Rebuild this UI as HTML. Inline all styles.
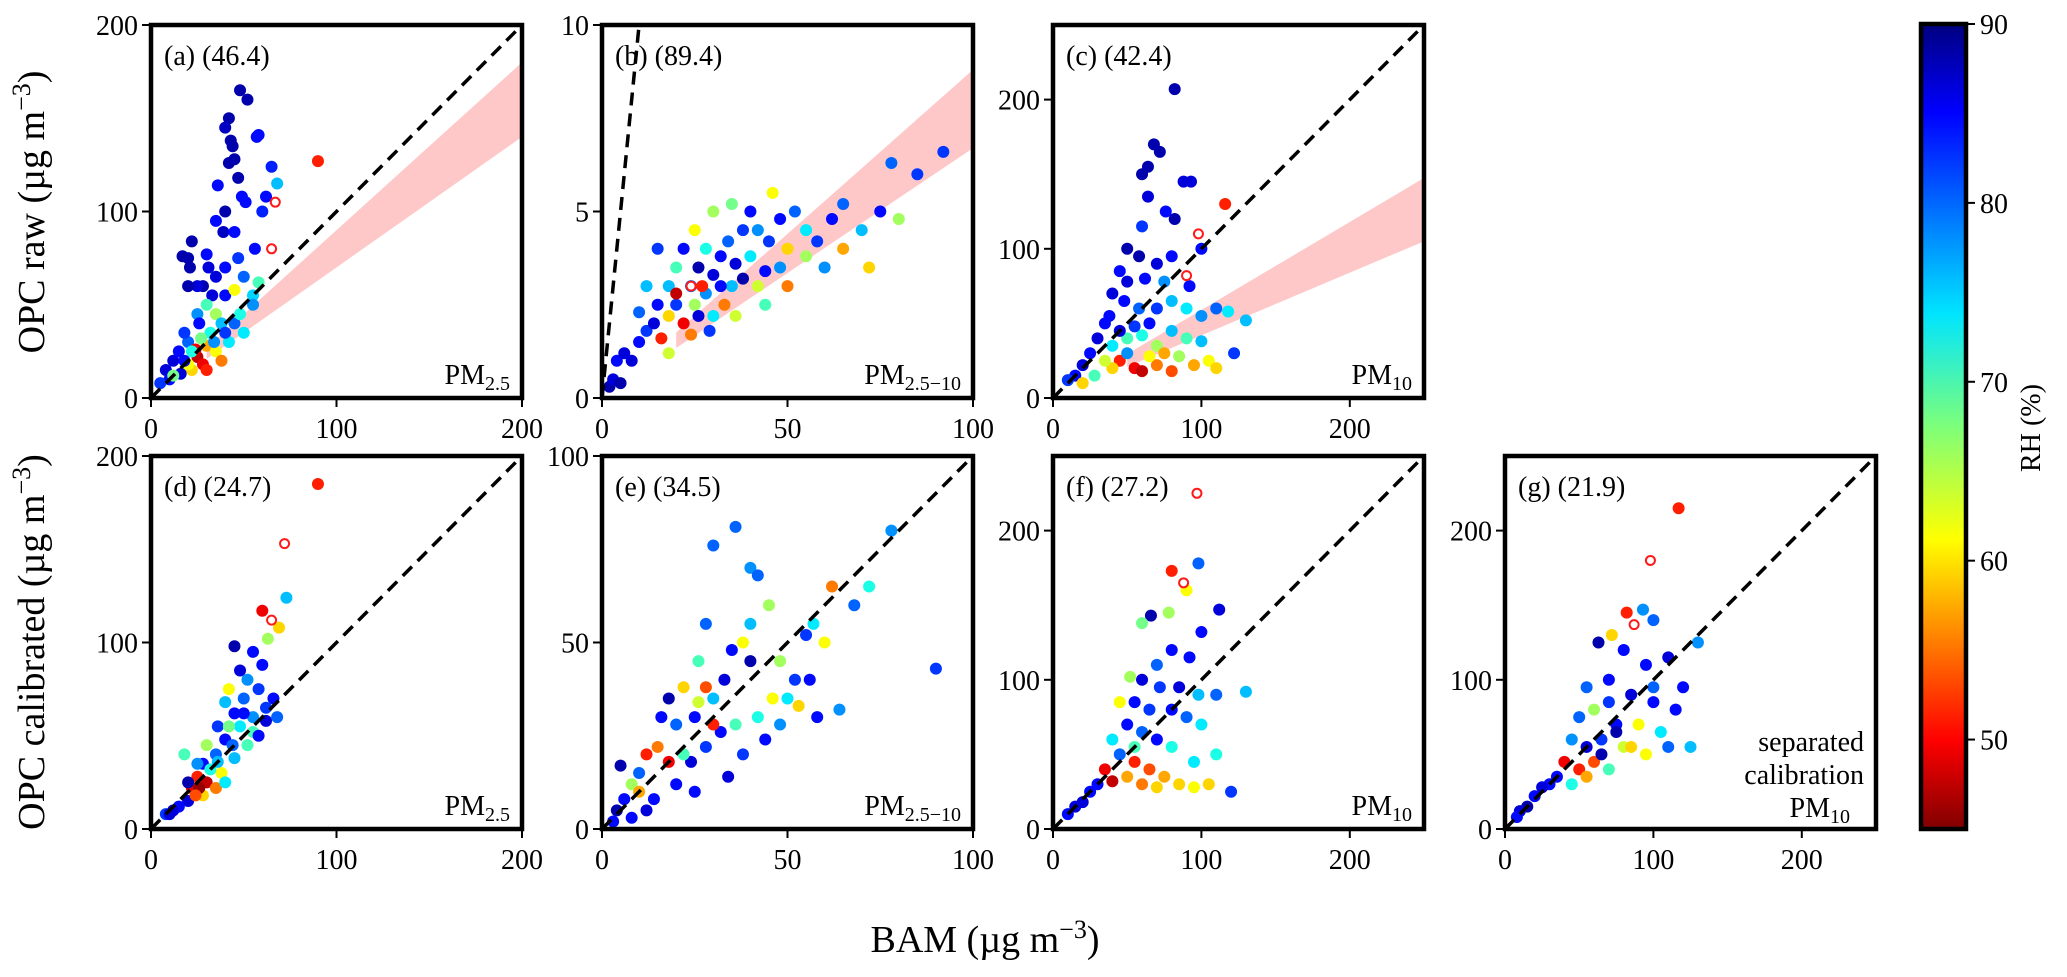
<!DOCTYPE html>
<html><head><meta charset="utf-8"><style>
html,body{margin:0;padding:0;background:#fff;}
svg{display:block;font-family:"Liberation Serif",serif;}
</style></head><body>
<svg id="chart" width="2067" height="977" xmlns="http://www.w3.org/2000/svg">
<defs><linearGradient id="jet" x1="0" y1="1" x2="0" y2="0">
<stop offset="0" stop-color="#800000"/><stop offset="0.11" stop-color="#ff0000"/><stop offset="0.36" stop-color="#ffff00"/><stop offset="0.5" stop-color="#7dff7a"/><stop offset="0.64" stop-color="#00e5ff"/><stop offset="0.89" stop-color="#0000ff"/><stop offset="1" stop-color="#000080"/>
</linearGradient></defs>
</svg>
<script>
const rhMin=45, rhMax=90;
const cbTicks=[50,60,70,80,90];
const pointsA=[[48,165,88],[52,160,88],[42,150,88],[40,145,87],[43,138,88],[44,135,88],[57,140,84],[58,141,84],[45,128,88],[42,126,88],[47,118,88],[36,114,84],[65,124,83],[68,115,76],[90,127,52],[49,108,84],[51,105,84],[62,108,84],[60,100,83],[40,100,88],[35,95,84],[39,89,87],[45,89,84],[22,84,88],[30,77,84],[17,76,88],[20,75,88],[21,70,88],[31,70,86],[35,65,86],[40,70,84],[56,80,84],[47,75,82],[50,65,80],[28,60,88],[25,60,86],[20,60,88],[33,55,86],[40,55,84],[45,58,62],[55,55,75],[30,50,70],[25,45,78],[35,45,66],[12,20,86],[8,15,86],[15,25,84],[20,30,80],[25,22,48],[28,18,50],[30,28,58],[22,15,60],[32,35,72],[38,40,76],[42,30,74],[18,35,82],[16,13,86],[10,10,84],[35,25,62],[27,32,68],[45,40,80],[50,35,74],[38,20,56],[30,15,52],[24,26,50],[20,18,62],[12,12,68],[5,8,82],[58,62,70],[55,50,78],[48,45,72],[26,40,84],[34,30,78],[22,25,72],[18,20,84],[40,35,82]];
const openA=[[67,105],[65,80]];
const pointsB=[[2,0.3,88],[3,0.5,86],[5,0.4,88],[4,1,84],[6,1.2,86],[8,1,86],[10,1.5,84],[12,1.8,82],[10,2.3,80],[14,2,86],[15,2.5,84],[16,1.6,52],[18,2.2,60],[18,3,76],[20,2.5,82],[20,3.5,70],[22,2,50],[22,4,84],[24,3,80],[25,2.5,66],[25,4.5,62],[26,3.5,88],[28,2.8,78],[28,4,72],[30,2.2,74],[30,3.3,86],[30,5,66],[32,3.8,84],[33,2.5,56],[34,4.2,80],[35,3,76],[35,5.2,68],[36,2.2,64],[38,4.5,82],[38,3.2,88],[40,3.8,74],[40,5,84],[42,3,64],[42,4.5,78],[44,2.5,70],[45,4.2,82],[46,5.5,62],[48,3.5,78],[48,4.8,84],[50,4,60],[50,3,56],[52,5,80],[55,4.5,74],[55,3.8,66],[58,4.2,82],[60,3.5,78],[62,4.8,84],[65,4,58],[65,5.2,80],[70,4.5,76],[72,3.5,60],[75,5,84],[78,6.3,80],[80,4.8,66],[85,6,82],[92,6.6,82],[15,4,82],[12,3,76],[20,2.8,48],[24,1.7,56],[27,3,52],[18,1.2,64],[26,2.2,86],[32,3,84],[29,1.8,82],[36,3.6,86],[44,3.4,84]];
const openB=[[24,3]];
const pointsC=[[82,207,88],[68,170,88],[72,165,88],[64,155,88],[60,150,88],[93,145,86],[88,145,86],[64,135,86],[76,125,84],[82,120,88],[116,130,52],[100,100,84],[60,115,82],[50,100,88],[58,95,88],[80,95,84],[70,90,86],[45,85,84],[50,78,86],[62,80,84],[75,78,78],[92,75,84],[40,70,86],[48,65,84],[58,60,80],[70,60,82],[80,65,76],[90,60,74],[100,55,78],[110,60,80],[118,58,74],[130,52,76],[122,30,82],[35,50,84],[30,40,86],[25,30,84],[20,22,86],[15,15,84],[10,12,82],[40,35,74],[50,40,70],[60,42,72],[70,35,66],[80,45,76],[90,40,70],[100,38,76],[45,25,52],[55,20,50],[60,18,48],[70,22,56],[80,18,54],[95,22,58],[105,25,62],[110,20,60],[65,28,62],[75,30,58],[85,28,66],[40,20,60],[35,25,64],[50,30,78],[20,10,60],[28,15,70],[55,48,82],[65,50,84],[45,45,86],[38,55,84]];
const openC=[[98,110],[90,82]];
const pointsD=[[90,185,52],[60,117,50],[73,124,76],[69,108,60],[63,102,66],[45,98,88],[55,95,84],[48,85,86],[60,88,84],[52,80,78],[42,75,62],[58,75,82],[66,70,84],[50,70,80],[40,68,76],[45,62,84],[55,60,78],[62,58,86],[36,55,82],[48,55,74],[40,48,84],[52,45,70],[30,45,66],[35,40,80],[45,38,76],[28,35,84],[38,30,62],[25,28,52],[30,25,48],[22,22,50],[35,22,56],[28,18,60],[20,15,86],[15,12,84],[12,10,86],[8,8,82],[18,40,70],[25,35,78],[42,55,68],[55,52,70],[62,65,82],[68,60,80],[58,50,84],[32,32,72],[40,25,74],[20,25,88],[10,8,86],[26,22,46],[44,45,80],[50,62,84],[36,36,76],[24,18,54]];
const openD=[[72,153],[65,112]];
const pointsE=[[36,81,80],[40,70,78],[30,76,80],[78,80,78],[90,43,82],[72,65,72],[68,60,80],[62,65,56],[64,32,78],[57,55,74],[60,50,62],[55,52,82],[52,40,82],[50,35,74],[48,45,66],[45,60,66],[42,68,80],[40,55,76],[38,50,62],[35,48,84],[33,40,86],[30,35,76],[28,55,80],[26,45,70],[25,30,84],[22,38,60],[20,28,80],[18,35,88],[16,30,84],[15,22,56],[12,20,52],[10,15,80],[8,12,66],[6,8,84],[4,5,88],[3,2,84],[5,17,88],[14,8,84],[20,12,84],[24,18,86],[28,22,82],[32,26,84],[36,28,70],[38,20,82],[42,30,72],[44,24,84],[46,35,62],[48,28,78],[53,33,60],[56,40,84],[58,30,84],[28,38,54],[30,28,52],[18,18,50],[10,10,58],[12,5,86],[8,3,84],[25,10,84],[34,14,86],[40,45,88],[22,20,70],[26,34,64]];
const pointsF=[[80,173,52],[98,178,80],[90,160,62],[66,143,88],[78,145,66],[60,138,68],[112,147,86],[100,132,84],[80,120,84],[92,115,84],[70,110,80],[52,102,66],[60,100,86],[72,95,82],[85,95,86],[98,90,76],[110,90,80],[130,92,76],[45,85,62],[55,85,84],[65,80,82],[80,80,84],[90,75,80],[100,70,74],[50,70,84],[60,65,80],[70,60,84],[40,60,74],[45,50,80],[55,45,52],[65,40,54],[75,35,58],[85,30,60],[95,28,62],[105,30,60],[120,25,82],[35,40,50],[30,30,84],[25,25,84],[20,18,86],[15,15,86],[10,10,84],[50,35,58],[60,30,56],[70,28,60],[40,32,48],[55,55,70],[80,55,72],[95,45,74],[110,50,72]];
const openF=[[97,225],[88,165]];
const pointsG=[[117,215,52],[82,145,52],[93,147,78],[100,140,80],[72,130,60],[63,125,88],[80,120,84],[95,110,84],[110,115,86],[130,125,78],[120,95,84],[100,95,80],[85,90,86],[70,85,82],[60,80,66],[50,75,80],[75,70,84],[90,70,62],[105,65,74],[125,55,76],[110,55,80],[45,60,78],[55,55,86],[65,60,82],[80,55,64],[95,50,62],[40,45,50],[50,40,52],[60,45,54],[70,40,70],[35,35,84],[30,30,84],[25,28,86],[20,22,84],[15,15,88],[10,12,86],[8,8,84],[45,30,72],[55,35,58],[65,50,88],[75,65,88],[85,55,60],[100,85,84],[115,80,84],[70,100,84],[55,95,80]];
const openG=[[98,180],[87,137]];
const bandA=[30,0.9,0.7], bandB=[20,0.088,0.067], bandC=[50,0.59,0.42];

const svg=document.getElementById('chart');
const NS='http://www.w3.org/2000/svg';
function mk(tag,attrs,parent){const e=document.createElementNS(NS,tag);for(const k in attrs)e.setAttribute(k,attrs[k]);(parent||svg).appendChild(e);return e;}
function jet(v){let t=(rhMax-v)/(rhMax-rhMin);t=Math.max(0,Math.min(1,t));
 const r=Math.max(0,Math.min(1,1.5-Math.abs(4*t-3))),g=Math.max(0,Math.min(1,1.5-Math.abs(4*t-2))),b=Math.max(0,Math.min(1,1.5-Math.abs(4*t-1)));
 return `rgb(${Math.round(r*255)},${Math.round(g*255)},${Math.round(b*255)})`;}

const panels=[
 {id:'a',x0:151,y0:25,xmax:200,ymax:200,xt:[0,100,200],yt:[0,100,200],pts:pointsA,open:openA,band:bandA,lab:'(a) (46.4)',pm:['PM','2.5']},
 {id:'b',x0:602,y0:25,xmax:100,ymax:10,xt:[0,50,100],yt:[0,5,10],pts:pointsB,open:openB,band:bandB,lab:'(b) (89.4)',pm:['PM','2.5\u221210']},
 {id:'c',x0:1053,y0:25,xmax:250,ymax:250,xt:[0,100,200],yt:[0,100,200],pts:pointsC,open:openC,band:bandC,lab:'(c) (42.4)',pm:['PM','10']},
 {id:'d',x0:151,y0:456,xmax:200,ymax:200,xt:[0,100,200],yt:[0,100,200],pts:pointsD,open:openD,lab:'(d) (24.7)',pm:['PM','2.5']},
 {id:'e',x0:602,y0:456,xmax:100,ymax:100,xt:[0,50,100],yt:[0,50,100],pts:pointsE,open:[],lab:'(e) (34.5)',pm:['PM','2.5\u221210']},
 {id:'f',x0:1053,y0:456,xmax:250,ymax:250,xt:[0,100,200],yt:[0,100,200],pts:pointsF,open:openF,lab:'(f) (27.2)',pm:['PM','10']},
 {id:'g',x0:1505,y0:456,xmax:250,ymax:250,xt:[0,100,200],yt:[0,100,200],pts:pointsG,open:openG,lab:'(g) (21.9)',pm:null}
];
const W=371,H=373;
panels.forEach(p=>{
 const g=mk('g',{});
 
 
 const sx=v=>p.x0+v/p.xmax*W, sy=v=>p.y0+H-v/p.ymax*H;
 const cp=mk('clipPath',{id:'clip'+p.id},g);mk('rect',{x:p.x0,y:p.y0,width:W,height:H},cp);
 const inner=mk('g',{'clip-path':'url(#clip'+p.id+')'},g);
 if(p.band){const [s,u,l]=p.band;const xe=p.xmax;
  const band=mk('polygon',{points:`${sx(s)},${sy(s*u)} ${sx(xe)},${sy(xe*u)} ${sx(xe)},${sy(xe*l)} ${sx(s)},${sy(s*l)}`,fill:'#ffc8c8'},inner);
  
  }
 p.pts.forEach(d=>{const c=mk('circle',{cx:sx(d[0]),cy:sy(d[1]),r:6,fill:jet(d[2])},inner);
  
  });
 p.open.forEach(d=>{const c=mk('circle',{cx:sx(d[0]),cy:sy(d[1]),r:4.5,fill:'#fff',stroke:'#ff1a1a','stroke-width':2},inner);
  
  });
 const m=Math.max(p.xmax,p.ymax);
 const ln=mk('line',{x1:sx(0),y1:sy(0),x2:sx(m),y2:sy(m),stroke:'#000','stroke-width':3.5,'stroke-dasharray':'13,8'},inner);
 
 
 const fr=mk('rect',{x:p.x0,y:p.y0,width:W,height:H,fill:'none',stroke:'#000','stroke-width':4.5},g);
 
 
 p.xt.forEach(v=>{mk('line',{x1:sx(v),y1:p.y0+H,x2:sx(v),y2:p.y0+H+9,stroke:'#000','stroke-width':2},g);
  const t=mk('text',{x:sx(v),y:p.y0+H+40,'font-size':28,'text-anchor':'middle'},g);t.textContent=v;
  
  });
 p.yt.forEach(v=>{mk('line',{x1:p.x0-9,y1:sy(v),x2:p.x0,y2:sy(v),stroke:'#000','stroke-width':2},g);
  const t=mk('text',{x:p.x0-13,y:sy(v)+10,'font-size':28,'text-anchor':'end'},g);t.textContent=v;
  
  });
 const lb=mk('text',{x:p.x0+13,y:p.y0+40,'font-size':28},g);lb.textContent=p.lab;
 
 
 if(p.pm){const t=mk('text',{x:p.x0+W-12,y:p.y0+H-14,'font-size':28,'text-anchor':'end'},g);
  
  
  const a=mk('tspan',{},t);a.textContent=p.pm[0];const b=mk('tspan',{'font-size':20,dy:6},t);b.textContent=p.pm[1];}
 else{['separated','calibration','PM'].forEach((s,i)=>{const t=mk('text',{x:p.x0+W-12-(i==2?14:0),y:p.y0+H-78+i*33,'font-size':28,'text-anchor':'end'},g);
  
  
  t.textContent=s;if(i==2){const b=mk('tspan',{'font-size':20,dy:6},t);b.textContent='10';}});}
});
// colorbar
const cbx=1921,cby=24,cbw=45,cbh=805;
const cb=mk('rect',{x:cbx,y:cby,width:cbw,height:cbh,fill:'url(#jet)',stroke:'#000','stroke-width':4.5});


cbTicks.forEach(v=>{const y=cby+cbh-(v-rhMin)/(rhMax-rhMin)*cbh;
 mk('line',{x1:cbx+cbw,y1:y,x2:cbx+cbw+9,y2:y,stroke:'#000','stroke-width':2});
 const t=mk('text',{x:cbx+cbw+14,y:y+10,'font-size':28},svg);t.textContent=v;
 
 });
function lab(txt,x,y,rot,name,size){const t=mk('text',{x:x,y:y,'font-size':size,'text-anchor':'middle',transform:rot?`rotate(-90 ${x} ${y})`:''});
 
 
 t.innerHTML=txt;return t;}
lab('RH (%)',2040,428,true,'colorbar-title',28);
lab('OPC raw (\u00b5g m<tspan dy="-14" font-size="26">\u22123</tspan><tspan dy="14">)</tspan>',44,212,true,'y-axis-title-top',38);
lab('OPC calibrated (\u00b5g m<tspan dy="-14" font-size="26">\u22123</tspan><tspan dy="14">)</tspan>',44,642,true,'y-axis-title-bottom',38);
lab('BAM (\u00b5g m<tspan dy="-14" font-size="26">\u22123</tspan><tspan dy="14">)</tspan>',985,952,false,'x-axis-title',38);
</script>
</body></html>
